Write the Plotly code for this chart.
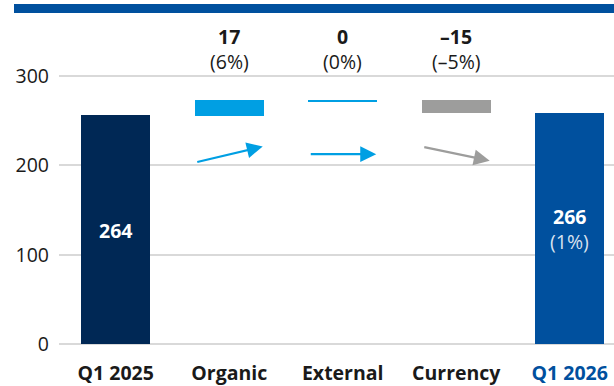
import plotly.graph_objects as go

categories = ["Q1 2025", "Organic", "External", "Currency", "Q1 2026"]
bar_base = [0, 255.2, 271.4, 258.4, 0]
bar_top = [256.2, 272.9, 272.6, 273.7, 258.4]
bar_colors = ["#002855", "#009FE3", "#009FE3", "#9D9D9C", "#00509E"]
value_labels = ["264", "17", "0", "\u201315", "266"]
pct_labels = ["", "(6%)", "(0%)", "(\u20135%)", "(1%)"]
arrow_start = [None, 203.5, 212.7, 220.9, None]
arrow_end = [None, 221.3, 212.7, 205.3, None]
arrow_colors = [None, "#009FE3", "#009FE3", "#9D9D9C", None]
y_ticks = [0, 100, 200, 300]

FONT = "Open Sans"
TXT = "#1a1a1a"
FS = 19.5
x = list(range(len(categories)))

fig = go.Figure()
fig.add_trace(go.Bar(
    x=x,
    y=[t - b for t, b in zip(bar_top, bar_base)],
    base=bar_base,
    width=0.61,
    marker=dict(color=bar_colors, line=dict(width=0)),
    hoverinfo="skip",
))

annotations = []
for i in x:
    if pct_labels[i] and bar_base[i] > 0:
        annotations.append(dict(x=i, y=344.5, xref="x", yref="y", text="<b>" + value_labels[i] + "</b>",
                                showarrow=False, font=dict(family=FONT, size=FS, color=TXT)))
        annotations.append(dict(x=i, y=317, xref="x", yref="y", text=pct_labels[i],
                                showarrow=False, font=dict(family=FONT, size=FS, color=TXT)))
    if arrow_start[i] is not None:
        annotations.append(dict(x=i + 0.295, y=arrow_end[i], ax=i - 0.295, ay=arrow_start[i],
                                xref="x", yref="y", axref="x", ayref="y", text="",
                                showarrow=True, arrowhead=2, arrowsize=1.45, arrowwidth=2.2,
                                arrowcolor=arrow_colors[i], standoff=0, startstandoff=0))

# inside-bar labels
annotations.append(dict(x=0, y=127, xref="x", yref="y", text="<b>" + value_labels[0] + "</b>",
                        showarrow=False, font=dict(family=FONT, size=FS, color="white")))
annotations.append(dict(x=4, y=142.6, xref="x", yref="y", text="<b>" + value_labels[4] + "</b>",
                        showarrow=False, font=dict(family=FONT, size=FS, color="white")))
annotations.append(dict(x=4, y=114.7, xref="x", yref="y", text=pct_labels[4],
                        showarrow=False, font=dict(family=FONT, size=FS, color="rgba(255,255,255,0.85)")))

ticktext = ["<b>%s</b>" % c for c in categories[:-1]] + \
    ['<b><span style="color:#00509E">%s</span></b>' % categories[-1]]

fig.update_layout(
    width=614, height=386,
    margin=dict(l=59, r=0, t=0, b=40),
    paper_bgcolor="white", plot_bgcolor="white",
    showlegend=False,
    bargap=0,
    annotations=annotations,
    shapes=[dict(type="rect", xref="paper", yref="paper",
                 x0=-45 / 555, x1=1.0, y0=(346 - 13) / 346, y1=(346 - 4) / 346,
                 fillcolor="#00509E", line=dict(width=0), layer="above")],
    xaxis=dict(range=[-0.5, 4.39], tickvals=x, ticktext=ticktext, showgrid=False,
               zeroline=False, showline=False, ticks="", ticklabelstandoff=15,
               tickfont=dict(family=FONT, size=FS, color=TXT), fixedrange=True),
    yaxis=dict(range=[0, 346 / 0.8978], tickvals=y_ticks, showgrid=True,
               gridcolor="#d9d9d9", gridwidth=1.5, zeroline=True, zerolinecolor="#d9d9d9",
               zerolinewidth=1.5, showline=False, ticks="", ticklabelstandoff=9,
               tickfont=dict(family=FONT, size=FS, color=TXT), fixedrange=True),
)

fig.write_html("out.html")
